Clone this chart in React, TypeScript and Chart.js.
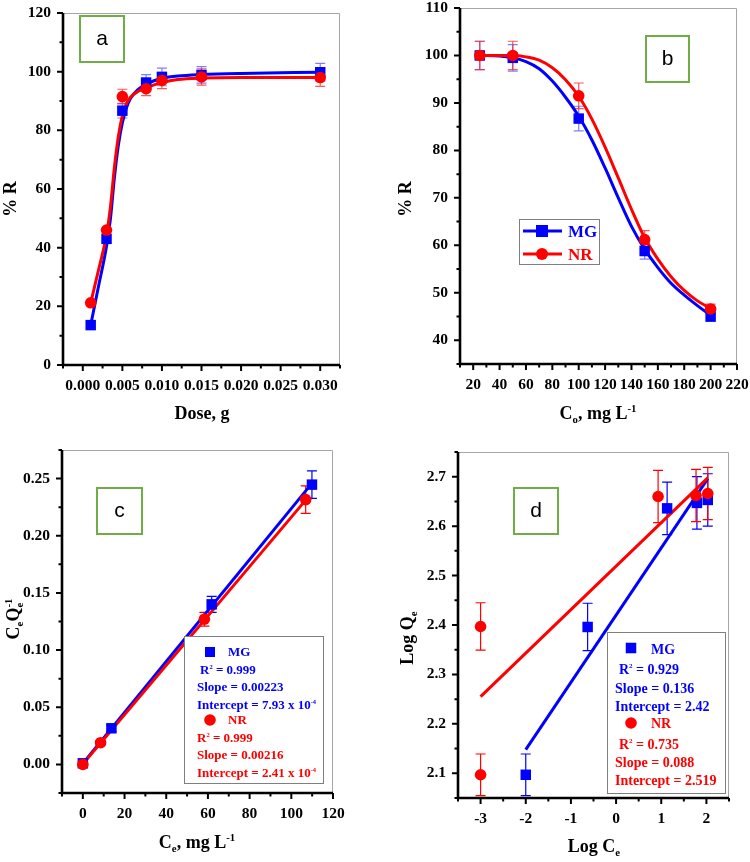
import React, { useEffect, useRef } from 'react';
import { Chart, registerables } from 'chart.js';

Chart.register(...registerables);

const BLUE = '#0000ff';
const RED = '#ff0000';
const BLUE_ERR = 'rgba(40,40,255,0.6)';
const RED_ERR = 'rgba(255,30,30,0.75)';
const TAG_GREEN = '#70ad47';
const SERIF = '"Liberation Serif", "Times New Roman", serif';
const SANS = '"Liberation Sans", Arial, sans-serif';

// ---------- (a) % removal vs. adsorbent dose ----------
const doseG = [0.001, 0.003, 0.005, 0.008, 0.01, 0.015, 0.03];
const mgRemovalByDose = [13.6, 43, 86.7, 96.3, 98.2, 98.9, 99.8];
const nrRemovalByDose = [21.2, 46, 91.5, 94.2, 97, 98.2, 98];
const mgRemovalByDoseErr = [0, 0, 2.5, 2.7, 3.0, 2.8, 3.0];
const nrRemovalByDoseErr = [0, 0, 2.5, 2.4, 2.8, 2.8, 3.0];
const doseFitX = [0.001, 0.002, 0.003, 0.0035, 0.004, 0.0045, 0.005, 0.0055, 0.006, 0.007, 0.008, 0.009, 0.01, 0.012, 0.015, 0.02, 0.03];
const mgDoseFit = [13.6, 27, 40.5, 50, 64, 75, 82.5, 87.5, 90.8, 94, 95.7, 96.9, 97.7, 98.5, 99, 99.4, 99.8];
const nrDoseFit = [21.2, 32.5, 44.5, 54, 67.5, 78, 85, 89, 91.2, 93.3, 94.5, 95.5, 96.3, 97.3, 97.8, 98, 98];
const doseTicks = [0, 0.005, 0.01, 0.015, 0.02, 0.025, 0.03];
const removalTicksA = [0, 20, 40, 60, 80, 100, 120];

// ---------- (b) % removal vs. initial concentration ----------
const initConc = [25, 50, 100, 150, 200];
const mgRemovalByConc = [100, 99.5, 86.7, 58.8, 45];
const nrRemovalByConc = [100, 100, 91.5, 61.2, 46.6];
const mgRemovalByConcErr = [3, 2.8, 2.6, 1.7, 1.0];
const nrRemovalByConcErr = [3, 3, 2.7, 1.9, 1.0];
const concFitX = [25, 40, 50, 60, 70, 80, 90, 100, 110, 120, 130, 140, 150, 160, 170, 180, 190, 200];
const mgConcFit = [100, 99.9, 99.5, 98.7, 97.2, 94.6, 91.2, 87.2, 82.2, 76.3, 70, 64, 59.2, 55.3, 52, 49.5, 47.3, 45.3];
const nrConcFit = [100, 100, 100, 99.7, 99, 97.4, 94.9, 91.4, 86.6, 80.7, 74.2, 67.6, 61.6, 57.1, 53.4, 50.5, 48.3, 46.7];
const concTicks = [20, 40, 60, 80, 100, 120, 140, 160, 180, 200, 220];
const removalTicksB = [40, 50, 60, 70, 80, 90, 100, 110];

// ---------- (c) Langmuir: Ce/Qe vs. Ce ----------
const ceMG = [0, 13.7, 61.8, 109.9];
const ceQeMG = [0.001, 0.0316, 0.14, 0.2447];
const ceQeMGErr = [0.002, 0.003, 0.007, 0.012];
const ceNR = [0, 8.5, 58.3, 106.9];
const ceQeNR = [0, 0.019, 0.127, 0.2316];
const ceQeNRErr = [0.001, 0.002, 0.006, 0.012];
const langmuirSlopeMG = 0.00223;
const langmuirInterceptMG = 7.93e-4;
const langmuirSlopeNR = 0.00216;
const langmuirInterceptNR = 2.41e-4;
const langmuirSpanMG = [0, 108];
const langmuirSpanNR = [0, 107];
const ceTicks = [0, 20, 40, 60, 80, 100, 120];
const ceQeTicks = [0, 0.05, 0.1, 0.15, 0.2, 0.25];

// ---------- (d) Freundlich: log Qe vs. log Ce ----------
const logCeMG = [-2.0, -0.63, 1.13, 1.79, 2.03];
const logQeMG = [2.097, 2.396, 2.636, 2.647, 2.653];
const logQeMGErr = [0.042, 0.048, 0.053, 0.053, 0.053];
const logCeNR = [-3.0, -3.0, 0.93, 1.77, 2.03];
const logQeNR = [2.097, 2.397, 2.66, 2.662, 2.666];
const logQeNRErr = [0.042, 0.048, 0.053, 0.053, 0.053];
const freundlichSlopeMG = 0.136;
const freundlichInterceptMG = 2.42;
const freundlichSlopeNR = 0.088;
const freundlichInterceptNR = 2.519;
const freundlichSpanMG = [-2, 2.03];
const freundlichSpanNR = [-3, 2.03];
const logCeTicks = [-3, -2, -1, 0, 1, 2];
const logQeTicks = [2.1, 2.2, 2.3, 2.4, 2.5, 2.6, 2.7];

// ---------- helpers ----------
type Seg = { t: string; k?: 'sub' | 'sup' };
const S = (t: string, k?: 'sub' | 'sup'): Seg => ({ t, k });

function drawRich(
  ctx: CanvasRenderingContext2D,
  segs: Seg[],
  x: number,
  yc: number,
  size: number,
  color: string,
  align: 'left' | 'center' = 'left',
  scriptScale = 0.6,
) {
  const items: { t: string; x: number; w: number; font: string; dy: number }[] = [];
  let cx = 0;
  let lastSub: { x: number; w: number } | null = null;
  for (const s of segs) {
    const fs = s.k ? size * scriptScale : size;
    const font = `bold ${fs}px ${SERIF}`;
    ctx.font = font;
    const w = ctx.measureText(s.t).width;
    let sx = cx;
    if (s.k === 'sup' && lastSub) {
      sx = lastSub.x;
      cx = Math.max(cx, sx + w);
    } else {
      cx += w;
    }
    const dy = s.k === 'sub' ? size * 0.24 : s.k === 'sup' ? -size * 0.42 : 0;
    const it = { t: s.t, x: sx, w, font, dy };
    items.push(it);
    lastSub = s.k === 'sub' ? it : null;
  }
  const x0 = align === 'center' ? x - cx / 2 : x;
  const base = yc + size * 0.34;
  ctx.save();
  ctx.fillStyle = color;
  ctx.textAlign = 'left';
  ctx.textBaseline = 'alphabetic';
  for (const it of items) {
    ctx.font = it.font;
    ctx.fillText(it.t, x0 + it.x, base + it.dy);
  }
  ctx.restore();
}

const pts = (xs: number[], ys: number[]) => xs.map((x, i) => ({ x, y: ys[i] }));

function markers(xs: number[], ys: number[], color: string, style: 'rect' | 'circle', order: number) {
  return {
    data: pts(xs, ys),
    showLine: false,
    pointStyle: style,
    pointRadius: style === 'rect' ? 7.4 : 5.8,
    pointHoverRadius: style === 'rect' ? 7.4 : 5.8,
    pointBackgroundColor: color,
    pointBorderColor: color,
    pointBorderWidth: 0,
    borderColor: color,
    backgroundColor: color,
    order,
  };
}

function curve(xs: number[], ys: number[], color: string, order: number, smooth: boolean, width = 3) {
  return {
    data: pts(xs, ys),
    showLine: true,
    pointRadius: 0,
    pointHoverRadius: 0,
    borderColor: color,
    backgroundColor: color,
    borderWidth: width,
    cubicInterpolationMode: smooth ? 'monotone' : 'default',
    tension: 0,
    fill: false,
    order,
  };
}

function straight(span: number[], slope: number, intercept: number, color: string, order: number) {
  return curve(span, span.map((v) => slope * v + intercept), color, order, false, 3);
}

interface AxisCfg {
  min: number;
  max: number;
  major: number[];
  minorStep: number;
  fmt: (v: number) => string;
}

interface PanelCfg {
  pos: { left: number; top: number; w: number; h: number };
  area: { l: number; t: number; r: number; b: number };
  x: AxisCfg;
  y: AxisCfg;
  datasets: any[];
  errors: { xs: number[]; ys: number[]; es: number[]; color: string }[];
  xTitle: { segs: Seg[]; x: number; y: number };
  yTitle: { segs: Seg[]; x: number; y: number };
  tag: { text: string; x: number; y: number; w: number; h: number };
  legend?: (ctx: CanvasRenderingContext2D) => void;
}

const AXIS_BOX = 60;

function minorValues(ax: AxisCfg) {
  const out: number[] = [];
  const k0 = Math.ceil(ax.min / ax.minorStep - 1e-6);
  const k1 = Math.floor(ax.max / ax.minorStep + 1e-6);
  for (let k = k0; k <= k1; k++) {
    const v = k * ax.minorStep;
    if (!ax.major.some((m) => Math.abs(m - v) < ax.minorStep * 1e-3)) out.push(v);
  }
  return out;
}

function axisOptions(ax: AxisCfg, horizontal: boolean) {
  return {
    type: 'linear',
    min: ax.min,
    max: ax.max,
    afterBuildTicks: (s: any) => {
      s.ticks = ax.major.map((v) => ({ value: v }));
    },
    afterFit: (s: any) => {
      if (horizontal) s.height = AXIS_BOX;
      else s.width = AXIS_BOX;
      s.paddingLeft = 0;
      s.paddingRight = 0;
      s.paddingTop = 0;
      s.paddingBottom = 0;
    },
    grid: { display: false, drawTicks: false },
    border: { display: false },
    ticks: {
      padding: 12,
      color: '#000',
      font: { family: SERIF, weight: 'bold', size: 15.5 },
      maxRotation: 0,
      minRotation: 0,
      autoSkip: false,
      callback: (v: number) => ax.fmt(Number(v)),
    },
  };
}

function panelPlugin(cfg: PanelCfg) {
  return {
    id: 'panelDecor',
    beforeDatasetsDraw(chart: any) {
      const { ctx, scales } = chart;
      const xs = scales.x;
      const ys = scales.y;
      ctx.save();
      ctx.lineWidth = 1.2;
      for (const eb of cfg.errors) {
        ctx.strokeStyle = eb.color;
        eb.xs.forEach((xv, i) => {
          const e = eb.es[i];
          if (!e) return;
          const px = xs.getPixelForValue(xv);
          const top = ys.getPixelForValue(eb.ys[i] + e);
          const bot = ys.getPixelForValue(eb.ys[i] - e);
          ctx.beginPath();
          ctx.moveTo(px, top);
          ctx.lineTo(px, bot);
          ctx.moveTo(px - 5, top);
          ctx.lineTo(px + 5, top);
          ctx.moveTo(px - 5, bot);
          ctx.lineTo(px + 5, bot);
          ctx.stroke();
        });
      }
      ctx.restore();
    },
    afterDraw(chart: any) {
      const { ctx, chartArea, scales } = chart;
      const { left, right, top, bottom } = chartArea;
      const xs = scales.x;
      const ys = scales.y;
      ctx.save();
      // light frame on the top and right
      ctx.strokeStyle = '#a6a6a6';
      ctx.lineWidth = 1;
      ctx.beginPath();
      ctx.moveTo(left, top + 0.5);
      ctx.lineTo(right - 0.5, top + 0.5);
      ctx.lineTo(right - 0.5, bottom);
      ctx.stroke();
      // heavy axes
      ctx.strokeStyle = '#000';
      ctx.lineWidth = 2.6;
      ctx.beginPath();
      ctx.moveTo(left, top);
      ctx.lineTo(left, bottom);
      ctx.lineTo(right, bottom);
      ctx.stroke();
      // tick marks
      ctx.lineWidth = 2;
      ctx.beginPath();
      for (const v of cfg.x.major) {
        const p = xs.getPixelForValue(v);
        ctx.moveTo(p, bottom);
        ctx.lineTo(p, bottom + 6);
      }
      for (const v of minorValues(cfg.x)) {
        const p = xs.getPixelForValue(v);
        ctx.moveTo(p, bottom);
        ctx.lineTo(p, bottom + 3.5);
      }
      for (const v of cfg.y.major) {
        const p = ys.getPixelForValue(v);
        ctx.moveTo(left, p);
        ctx.lineTo(left - 6, p);
      }
      for (const v of minorValues(cfg.y)) {
        const p = ys.getPixelForValue(v);
        ctx.moveTo(left, p);
        ctx.lineTo(left - 3.5, p);
      }
      ctx.stroke();
      ctx.restore();

      // axis titles
      drawRich(ctx, cfg.xTitle.segs, cfg.xTitle.x, cfg.xTitle.y, 18, '#000', 'center');
      ctx.save();
      ctx.translate(cfg.yTitle.x, cfg.yTitle.y);
      ctx.rotate(-Math.PI / 2);
      drawRich(ctx, cfg.yTitle.segs, 0, 0, 18, '#000', 'center');
      ctx.restore();

      // panel tag
      const t = cfg.tag;
      ctx.save();
      ctx.fillStyle = '#fff';
      ctx.fillRect(t.x, t.y, t.w, t.h);
      ctx.strokeStyle = TAG_GREEN;
      ctx.lineWidth = 2;
      ctx.strokeRect(t.x, t.y, t.w, t.h);
      ctx.fillStyle = '#000';
      ctx.font = `21px ${SANS}`;
      ctx.textAlign = 'center';
      ctx.textBaseline = 'middle';
      ctx.fillText(t.text, t.x + t.w / 2, t.y + t.h / 2);
      ctx.restore();

      if (cfg.legend) {
        ctx.save();
        cfg.legend(ctx);
        ctx.restore();
      }
    },
  };
}

function Panel({ cfg }: { cfg: PanelCfg }) {
  const ref = useRef<HTMLCanvasElement>(null);
  useEffect(() => {
    const { w, h } = cfg.pos;
    const { l, t, r, b } = cfg.area;
    const chart = new Chart(ref.current as HTMLCanvasElement, {
      type: 'line',
      data: { datasets: cfg.datasets },
      options: {
        animation: false,
        responsive: false,
        maintainAspectRatio: false,
        events: [],
        layout: { padding: { left: l - AXIS_BOX, top: t, right: w - r, bottom: h - b - AXIS_BOX } },
        plugins: { legend: { display: false }, tooltip: { enabled: false } },
        scales: { x: axisOptions(cfg.x, true), y: axisOptions(cfg.y, false) } as any,
      },
      plugins: [panelPlugin(cfg)],
    } as any);
    return () => chart.destroy();
  }, [cfg]);
  return (
    <div style={{ position: 'absolute', left: cfg.pos.left, top: cfg.pos.top, width: cfg.pos.w, height: cfg.pos.h }}>
      <canvas ref={ref} width={cfg.pos.w} height={cfg.pos.h} style={{ width: cfg.pos.w, height: cfg.pos.h, display: 'block' }} />
    </div>
  );
}

function legendSquare(ctx: CanvasRenderingContext2D, x: number, y: number, side: number, color: string) {
  ctx.fillStyle = color;
  ctx.fillRect(x - side / 2, y - side / 2, side, side);
}
function legendDot(ctx: CanvasRenderingContext2D, x: number, y: number, r: number, color: string) {
  ctx.fillStyle = color;
  ctx.beginPath();
  ctx.arc(x, y, r, 0, Math.PI * 2);
  ctx.fill();
}
function legendBox(ctx: CanvasRenderingContext2D, x: number, y: number, w: number, h: number) {
  ctx.fillStyle = '#fff';
  ctx.fillRect(x, y, w, h);
  ctx.strokeStyle = '#7f7f7f';
  ctx.lineWidth = 1;
  ctx.strokeRect(x + 0.5, y + 0.5, w, h);
}

const panelA: PanelCfg = {
  pos: { left: 0, top: 0, w: 375, h: 430 },
  area: { l: 63, t: 13, r: 340, b: 365 },
  x: { min: -0.0025, max: 0.0325, major: doseTicks, minorStep: 0.0025, fmt: (v) => v.toFixed(3) },
  y: { min: 0, max: 120, major: removalTicksA, minorStep: 10, fmt: (v) => String(Math.round(v)) },
  datasets: [
    markers(doseG, nrRemovalByDose, RED, 'circle', 0),
    markers(doseG, mgRemovalByDose, BLUE, 'rect', 1),
    curve(doseFitX, nrDoseFit, RED, 2, true),
    curve(doseFitX, mgDoseFit, BLUE, 3, true),
  ],
  errors: [
    { xs: doseG, ys: mgRemovalByDose, es: mgRemovalByDoseErr, color: BLUE_ERR },
    { xs: doseG, ys: nrRemovalByDose, es: nrRemovalByDoseErr, color: RED_ERR },
  ],
  xTitle: { segs: [S('Dose, g')], x: 202, y: 413 },
  yTitle: { segs: [S('% R')], x: 10, y: 199 },
  tag: { text: 'a', x: 80, y: 16, w: 44, h: 46 },
};

const panelB: PanelCfg = {
  pos: { left: 375, top: 0, w: 375, h: 430 },
  area: { l: 85, t: 8, r: 362, b: 364 },
  x: { min: 10, max: 220, major: concTicks, minorStep: 10, fmt: (v) => String(Math.round(v)) },
  y: { min: 35, max: 110, major: removalTicksB, minorStep: 5, fmt: (v) => String(Math.round(v)) },
  datasets: [
    markers(initConc, nrRemovalByConc, RED, 'circle', 0),
    markers(initConc, mgRemovalByConc, BLUE, 'rect', 1),
    curve(concFitX, nrConcFit, RED, 2, true),
    curve(concFitX, mgConcFit, BLUE, 3, true),
  ],
  errors: [
    { xs: initConc, ys: mgRemovalByConc, es: mgRemovalByConcErr, color: BLUE_ERR },
    { xs: initConc, ys: nrRemovalByConc, es: nrRemovalByConcErr, color: RED_ERR },
  ],
  xTitle: { segs: [S('C'), S('o', 'sub'), S(', mg L'), S('-1', 'sup')], x: 223, y: 413 },
  yTitle: { segs: [S('% R')], x: 30, y: 199 },
  tag: { text: 'b', x: 271, y: 36, w: 43, h: 46 },
  legend: (ctx) => {
    legendBox(ctx, 144, 219, 80, 45);
    ctx.lineWidth = 3;
    ctx.strokeStyle = BLUE;
    ctx.beginPath();
    ctx.moveTo(148, 231);
    ctx.lineTo(187, 231);
    ctx.stroke();
    legendSquare(ctx, 167, 231, 12, BLUE);
    ctx.strokeStyle = RED;
    ctx.beginPath();
    ctx.moveTo(148, 254);
    ctx.lineTo(187, 254);
    ctx.stroke();
    legendDot(ctx, 167, 254, 6, RED);
    drawRich(ctx, [S('MG')], 193, 231, 17, BLUE);
    drawRich(ctx, [S('NR')], 193, 254, 17, RED);
  },
};

const panelC: PanelCfg = {
  pos: { left: 0, top: 430, w: 375, h: 432 },
  area: { l: 62, t: 20, r: 333, b: 363 },
  x: { min: -10, max: 120, major: ceTicks, minorStep: 10, fmt: (v) => String(Math.round(v)) },
  y: { min: -0.025, max: 0.275, major: ceQeTicks, minorStep: 0.025, fmt: (v) => v.toFixed(2) },
  datasets: [
    markers(ceNR, ceQeNR, RED, 'circle', 0),
    markers(ceMG, ceQeMG, BLUE, 'rect', 1),
    straight(langmuirSpanNR, langmuirSlopeNR, langmuirInterceptNR, RED, 2),
    straight(langmuirSpanMG, langmuirSlopeMG, langmuirInterceptMG, BLUE, 3),
  ],
  errors: [
    { xs: ceMG, ys: ceQeMG, es: ceQeMGErr, color: BLUE },
    { xs: ceNR, ys: ceQeNR, es: ceQeNRErr, color: RED },
  ],
  xTitle: { segs: [S('C'), S('e', 'sub'), S(', mg L'), S('-1', 'sup')], x: 197, y: 412 },
  yTitle: { segs: [S('C'), S('e', 'sub'), S('Q'), S('e', 'sub'), S('-1', 'sup')], x: 13, y: 189 },
  tag: { text: 'c', x: 97, y: 58, w: 45, h: 46 },
  legend: (ctx) => {
    legendBox(ctx, 184, 206, 139, 147);
    const f = 13;
    legendSquare(ctx, 210, 222, 10, BLUE);
    drawRich(ctx, [S('MG')], 228, 222, f, BLUE);
    drawRich(ctx, [S('R'), S('2', 'sup'), S(' = 0.999')], 200, 240, f, BLUE, 'left', 0.5);
    drawRich(ctx, [S('Slope = 0.00223')], 197, 257, f, BLUE);
    drawRich(ctx, [S('Intercept = 7.93 x 10'), S('-4', 'sup')], 197, 275, f, BLUE, 'left', 0.5);
    legendDot(ctx, 210, 290, 5.8, RED);
    drawRich(ctx, [S('NR')], 228, 290, f, RED);
    drawRich(ctx, [S('R'), S('2', 'sup'), S(' = 0.999')], 197, 308, f, RED, 'left', 0.5);
    drawRich(ctx, [S('Slope = 0.00216')], 197, 325, f, RED);
    drawRich(ctx, [S('Intercept = 2.41 x 10'), S('-4', 'sup')], 197, 343, f, RED, 'left', 0.5);
  },
};

const panelD: PanelCfg = {
  pos: { left: 375, top: 430, w: 375, h: 432 },
  area: { l: 83, t: 22, r: 354, b: 368 },
  x: { min: -3.5, max: 2.5, major: logCeTicks, minorStep: 0.5, fmt: (v) => String(Math.round(v)) },
  y: { min: 2.05, max: 2.75, major: logQeTicks, minorStep: 0.05, fmt: (v) => v.toFixed(1) },
  datasets: [
    markers(logCeNR, logQeNR, RED, 'circle', 0),
    markers(logCeMG, logQeMG, BLUE, 'rect', 1),
    straight(freundlichSpanNR, freundlichSlopeNR, freundlichInterceptNR, RED, 2),
    straight(freundlichSpanMG, freundlichSlopeMG, freundlichInterceptMG, BLUE, 3),
  ],
  errors: [
    { xs: logCeMG, ys: logQeMG, es: logQeMGErr, color: BLUE },
    { xs: logCeNR, ys: logQeNR, es: logQeNRErr, color: RED },
  ],
  xTitle: { segs: [S('Log C'), S('e', 'sub')], x: 219, y: 416 },
  yTitle: { segs: [S('Log Q'), S('e', 'sub')], x: 32, y: 208 },
  tag: { text: 'd', x: 139, y: 58, w: 44, h: 46 },
  legend: (ctx) => {
    legendBox(ctx, 232, 202, 118, 161);
    const f = 14;
    legendSquare(ctx, 256, 218, 10.5, BLUE);
    drawRich(ctx, [S('MG')], 276, 219, f, BLUE);
    drawRich(ctx, [S('R'), S('2', 'sup'), S(' = 0.929')], 244, 239, f, BLUE, 'left', 0.5);
    drawRich(ctx, [S('Slope = 0.136')], 240, 258, f, BLUE);
    drawRich(ctx, [S('Intercept = 2.42')], 240, 276, f, BLUE);
    legendDot(ctx, 256, 293, 5.8, RED);
    drawRich(ctx, [S('NR')], 276, 293, f, RED);
    drawRich(ctx, [S('R'), S('2', 'sup'), S(' = 0.735')], 244, 314, f, RED, 'left', 0.5);
    drawRich(ctx, [S('Slope = 0.088')], 240, 332, f, RED);
    drawRich(ctx, [S('Intercept = 2.519')], 240, 350, f, RED);
  },
};

export default function App() {
  return (
    <div style={{ position: 'absolute', left: 0, top: 0, width: 750, height: 862, background: '#fff' }}>
      <Panel cfg={panelA} />
      <Panel cfg={panelB} />
      <Panel cfg={panelC} />
      <Panel cfg={panelD} />
    </div>
  );
}
